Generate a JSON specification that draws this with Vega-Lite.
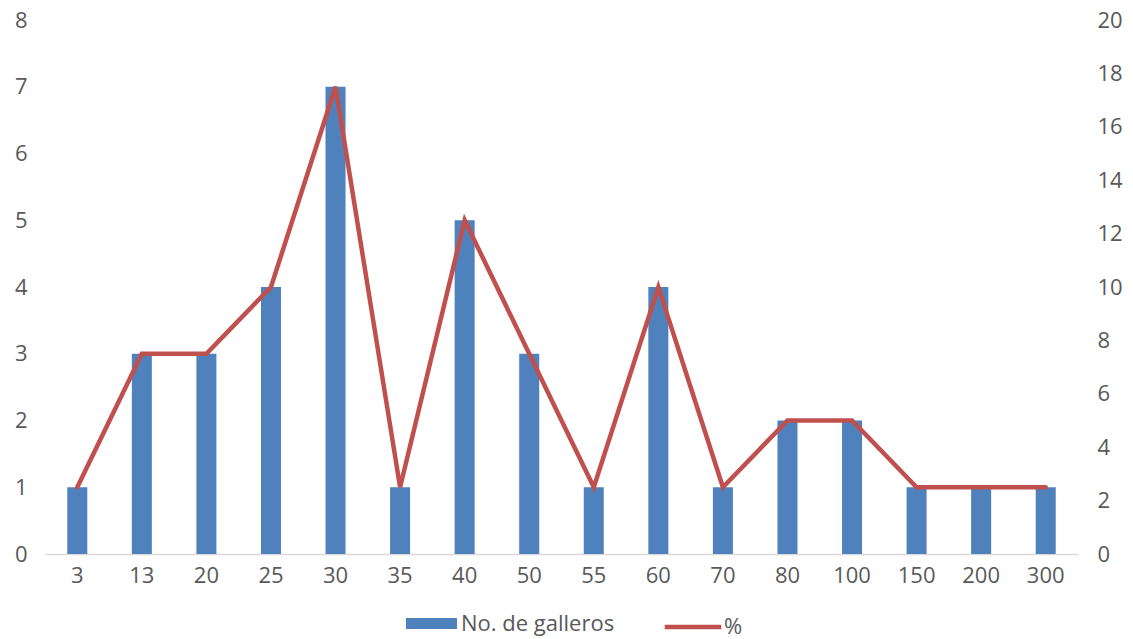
{
  "$schema": "https://vega.github.io/schema/vega-lite/v6.json",
  "width": 1033,
  "height": 534,
  "autosize": {"type": "none"},
  "padding": {"left": 45, "top": 20, "right": 55, "bottom": 85},
  "background": "white",
  "config": {
    "view": {"stroke": null},
    "font": "Open Sans",
    "axis": {"labelFont": "Open Sans", "labelFontSize": 22, "labelColor": "#595959", "grid": false, "ticks": false, "title": null},
    "legend": {"labelFont": "Open Sans", "labelFontSize": 22, "labelColor": "#595959"}
  },
  "data": {
    "values": [
      {"cat": "3", "n": 1, "pct": 2.5},
      {"cat": "13", "n": 3, "pct": 7.5},
      {"cat": "20", "n": 3, "pct": 7.5},
      {"cat": "25", "n": 4, "pct": 10},
      {"cat": "30", "n": 7, "pct": 17.5},
      {"cat": "35", "n": 1, "pct": 2.5},
      {"cat": "40", "n": 5, "pct": 12.5},
      {"cat": "50", "n": 3, "pct": 7.5},
      {"cat": "55", "n": 1, "pct": 2.5},
      {"cat": "60", "n": 4, "pct": 10},
      {"cat": "70", "n": 1, "pct": 2.5},
      {"cat": "80", "n": 2, "pct": 5},
      {"cat": "100", "n": 2, "pct": 5},
      {"cat": "150", "n": 1, "pct": 2.5},
      {"cat": "200", "n": 1, "pct": 2.5},
      {"cat": "300", "n": 1, "pct": 2.5}
    ]
  },
  "encoding": {
    "x": {
      "field": "cat", "type": "nominal", "sort": null,
      "scale": {"paddingInner": 0.69, "paddingOuter": 0.345},
      "axis": {"labelAngle": 0, "labelPadding": 11, "domainColor": "#D9D9D9", "domainWidth": 1.5}
    }
  },
  "layer": [
    {
      "mark": {"type": "bar"},
      "encoding": {
        "y": {"field": "n", "type": "quantitative", "scale": {"domain": [0, 8]},
          "axis": {"orient": "left", "domain": false, "tickCount": 8, "labelPadding": 18}},
        "fill": {"datum": "No. de galleros", "type": "nominal",
          "scale": {"range": ["#4F81BD"]},
          "legend": {"orient": "none", "legendX": 361, "legendY": 578, "title": null, "symbolType": "M-1,-0.22H1V0.22H-1Z", "symbolSize": 2600, "symbolStrokeWidth": 0, "labelOffset": 4}}
      }
    },
    {
      "mark": {"type": "line", "strokeWidth": 4.5, "strokeCap": "round"},
      "encoding": {
        "y": {"field": "pct", "type": "quantitative", "scale": {"domain": [0, 20]},
          "axis": {"orient": "right", "domain": false, "tickCount": 10, "labelPadding": 19}},
        "stroke": {"datum": "%", "type": "nominal",
          "scale": {"range": ["#C0504D"]},
          "legend": {"orient": "none", "legendX": 617, "legendY": 576, "title": null, "symbolType": "stroke", "symbolSize": 3200, "symbolStrokeWidth": 4.5, "labelOffset": 0}}
      }
    }
  ],
  "resolve": {"scale": {"y": "independent", "fill": "independent", "stroke": "independent"}}
}
